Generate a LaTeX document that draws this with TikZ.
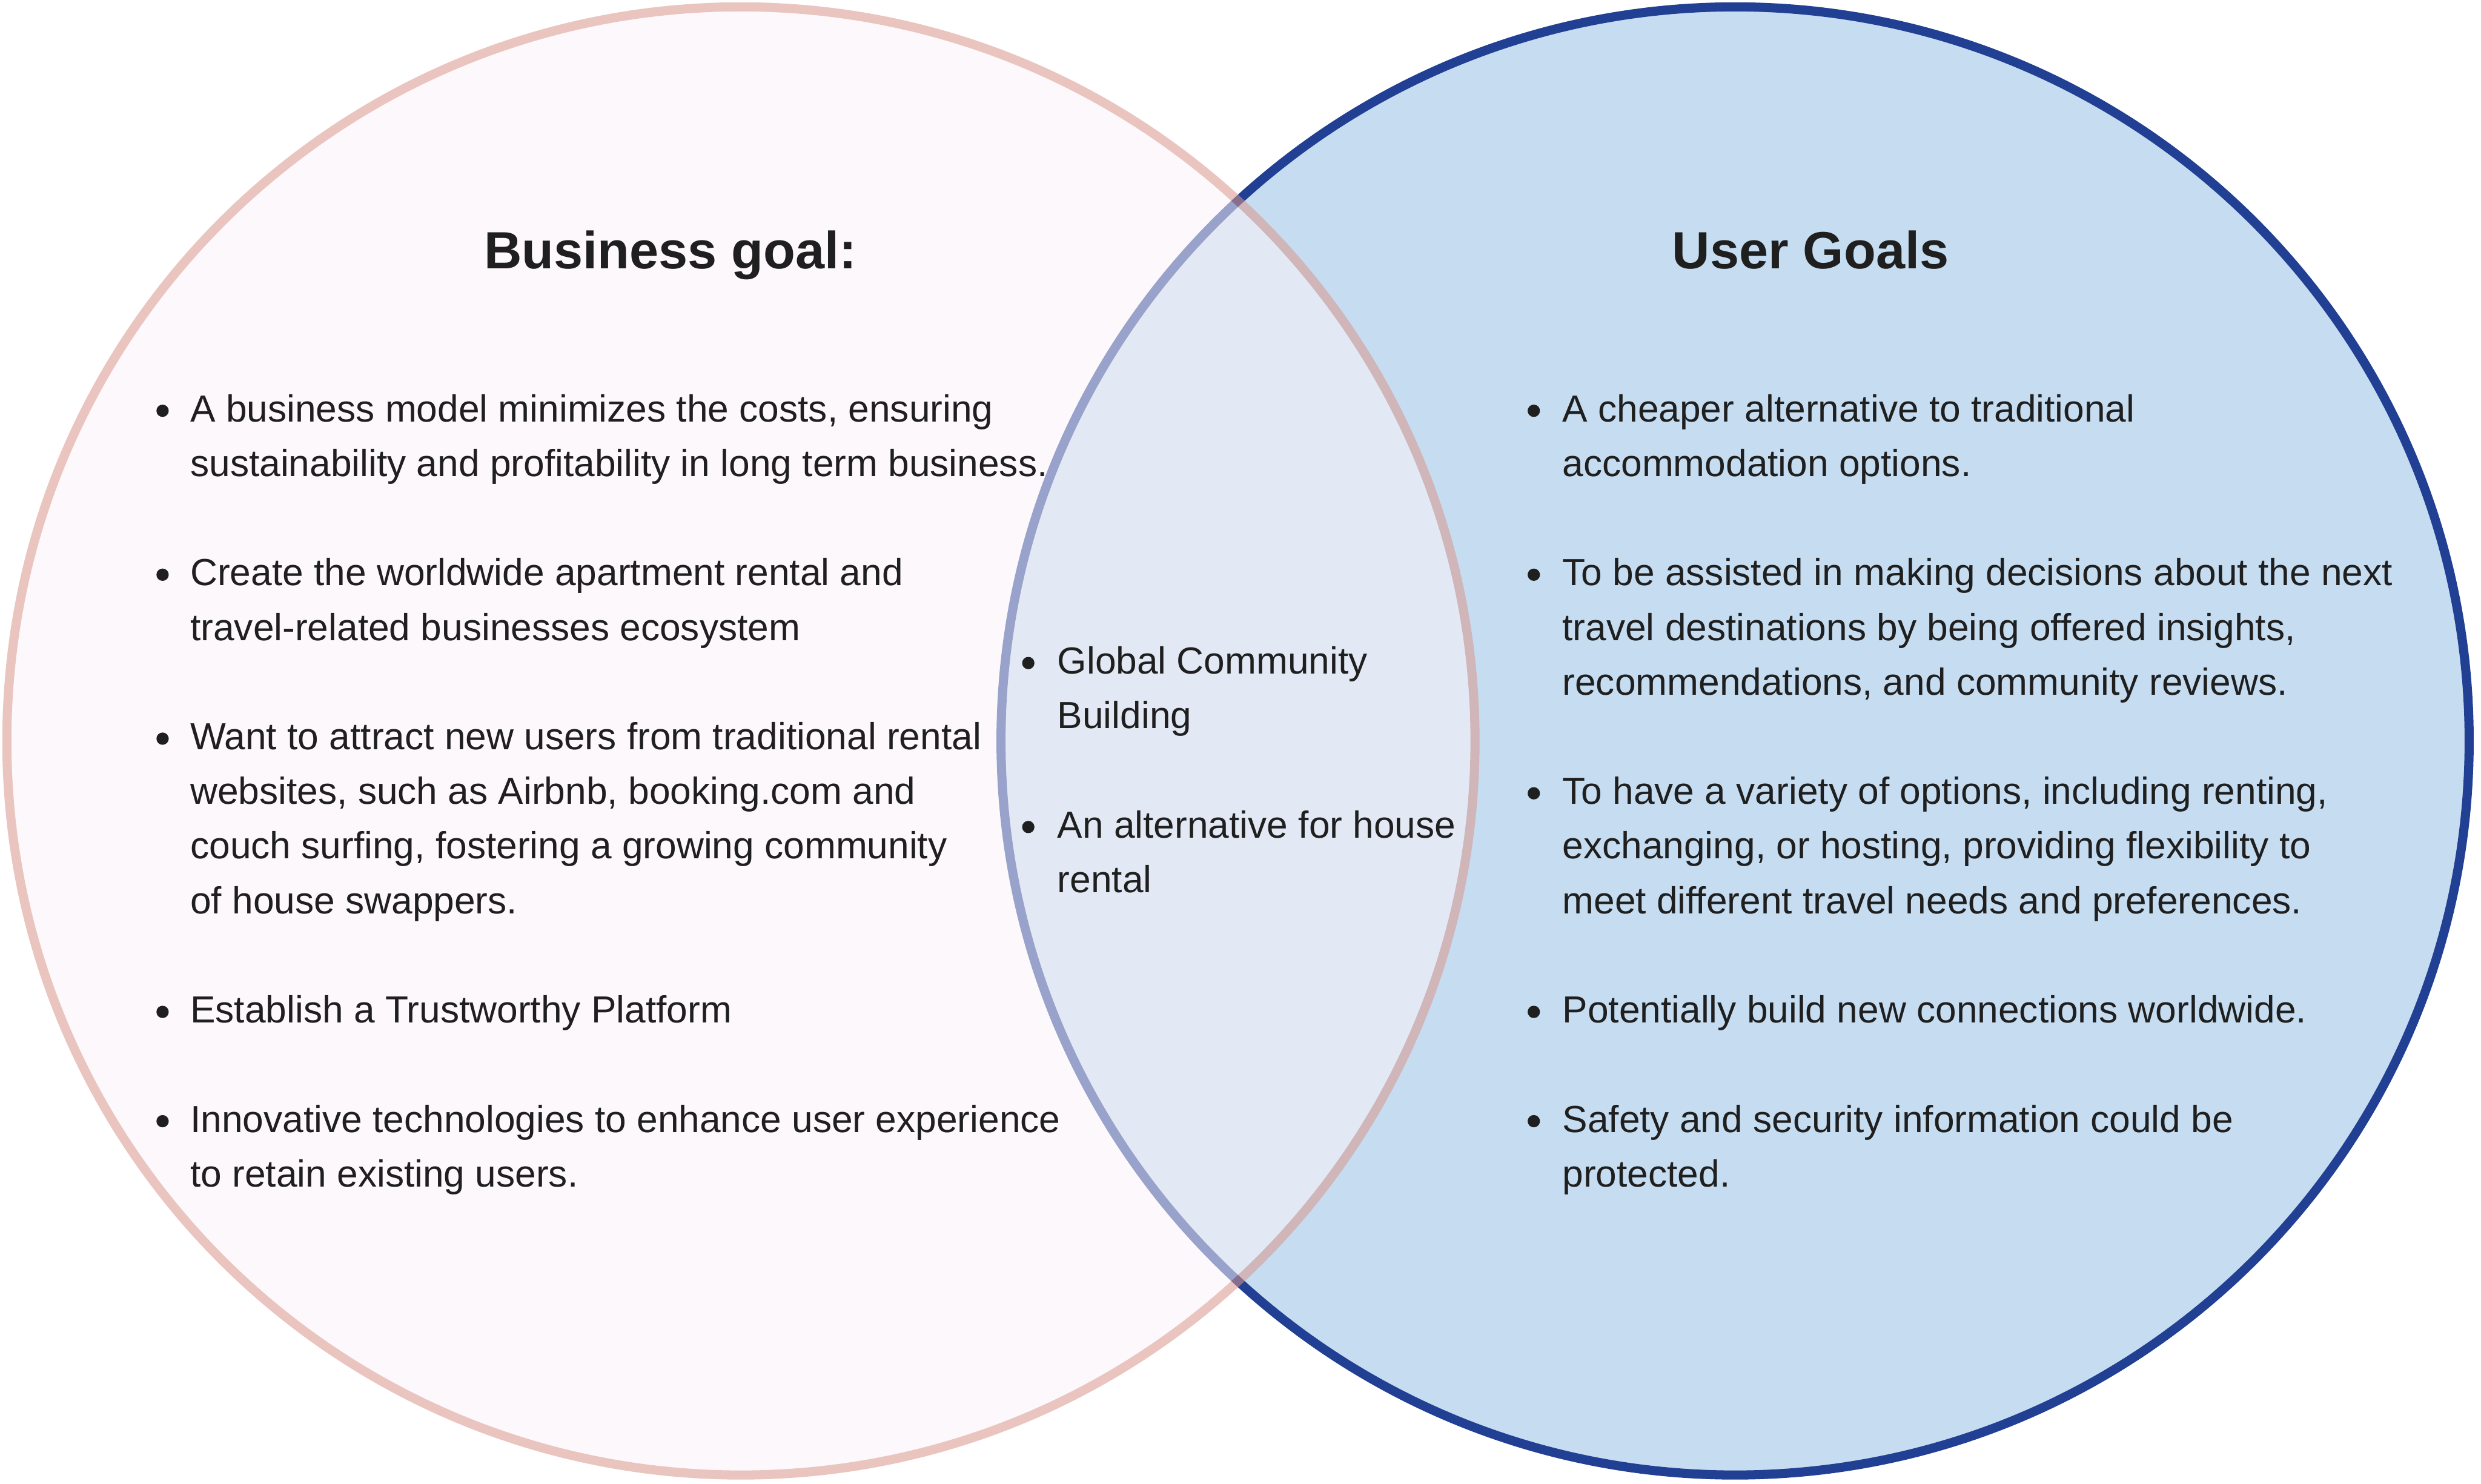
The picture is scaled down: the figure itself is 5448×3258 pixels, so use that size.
\documentclass[tikz,border=0pt]{standalone}
\usepackage{fontspec}
\setmainfont{Liberation Sans}
\definecolor{txt}{RGB}{31,31,31}
\definecolor{bfill}{RGB}{197,220,241}
\definecolor{bline}{RGB}{33,63,147}
\definecolor{pfill}{RGB}{252,244,248}
\definecolor{pline}{RGB}{218,150,140}
\begin{document}
\begin{tikzpicture}[x=0.01cm,y=-0.01cm,
  txtline/.style={anchor=base west, inner sep=0pt, outer sep=0pt, text=txt, font=\fontsize{23.55pt}{34pt}\selectfont},
  headline/.style={anchor=base west, inner sep=0pt, outer sep=0pt, text=txt, font=\fontsize{32.7pt}{40pt}\selectfont\bfseries},
  bulletdot/.style={circle, fill=txt, draw=none, inner sep=0pt, minimum size=0.27cm}]
\useasboundingbox (0,0) rectangle (5448,3258);
\fill[white] (0,0) rectangle (5448,3258);
% circles
\draw[line width=0.2cm, draw=bline, fill=bfill] (3810,1627) circle[radius=16.11cm];
\begin{scope}[transparency group, opacity=0.55]
\draw[line width=0.2cm, draw=pline, fill=pfill] (1627,1627) circle[radius=16.11cm];
\end{scope}
% headings
\node[headline] (hb) at (1063,590) {Business goal:};
\node[headline] (hu) at (3672,590) {User Goals};
% left column
\node[bulletdot] (lb1) at (357,902) {};
\node[txtline] (l1a) at (418,926) {A business model minimizes the costs, ensuring};
\node[txtline] (l1b) at (418,1046) {sustainability and profitability in long term business.};
\node[bulletdot] (lb2) at (357,1262) {};
\node[txtline] (l2a) at (418,1286) {Create the worldwide apartment rental and};
\node[txtline] (l2b) at (418,1406) {travel-related businesses ecosystem};
\node[bulletdot] (lb3) at (357,1622) {};
\node[txtline] (l3a) at (418,1646) {Want to attract new users from traditional rental};
\node[txtline] (l3b) at (418,1766) {websites, such as Airbnb, booking.com and};
\node[txtline] (l3c) at (418,1886) {couch surfing, fostering a growing community};
\node[txtline] (l3d) at (418,2006) {of house swappers.};
\node[bulletdot] (lb4) at (357,2222) {};
\node[txtline] (l4a) at (418,2246) {Establish a Trustworthy Platform};
\node[bulletdot] (lb5) at (357,2462) {};
\node[txtline] (l5a) at (418,2486) {Innovative technologies to enhance user experience};
\node[txtline] (l5b) at (418,2606) {to retain existing users.};
% middle
\node[bulletdot] (mb1) at (2258,1456) {};
\node[txtline] (m1a) at (2322,1480) {Global Community};
\node[txtline] (m1b) at (2322,1600) {Building};
\node[bulletdot] (mb2) at (2258,1816) {};
\node[txtline] (m2a) at (2322,1840) {An alternative for house};
\node[txtline] (m2b) at (2322,1960) {rental};
% right column
\node[bulletdot] (rb1) at (3368,902) {};
\node[txtline] (r1a) at (3431,926) {A cheaper alternative to traditional};
\node[txtline] (r1b) at (3431,1046) {accommodation options.};
\node[bulletdot] (rb2) at (3368,1262) {};
\node[txtline] (r2a) at (3431,1286) {To be assisted in making decisions about the next};
\node[txtline] (r2b) at (3431,1406) {travel destinations by being offered insights,};
\node[txtline] (r2c) at (3431,1526) {recommendations, and community reviews.};
\node[bulletdot] (rb3) at (3368,1742) {};
\node[txtline] (r3a) at (3431,1766) {To have a variety of options, including renting,};
\node[txtline] (r3b) at (3431,1886) {exchanging, or hosting, providing flexibility to};
\node[txtline] (r3c) at (3431,2006) {meet different travel needs and preferences.};
\node[bulletdot] (rb4) at (3368,2222) {};
\node[txtline] (r4a) at (3431,2246) {Potentially build new connections worldwide.};
\node[bulletdot] (rb5) at (3368,2462) {};
\node[txtline] (r5a) at (3431,2486) {Safety and security information could be};
\node[txtline] (r5b) at (3431,2606) {protected.};
\end{tikzpicture}
\end{document}
